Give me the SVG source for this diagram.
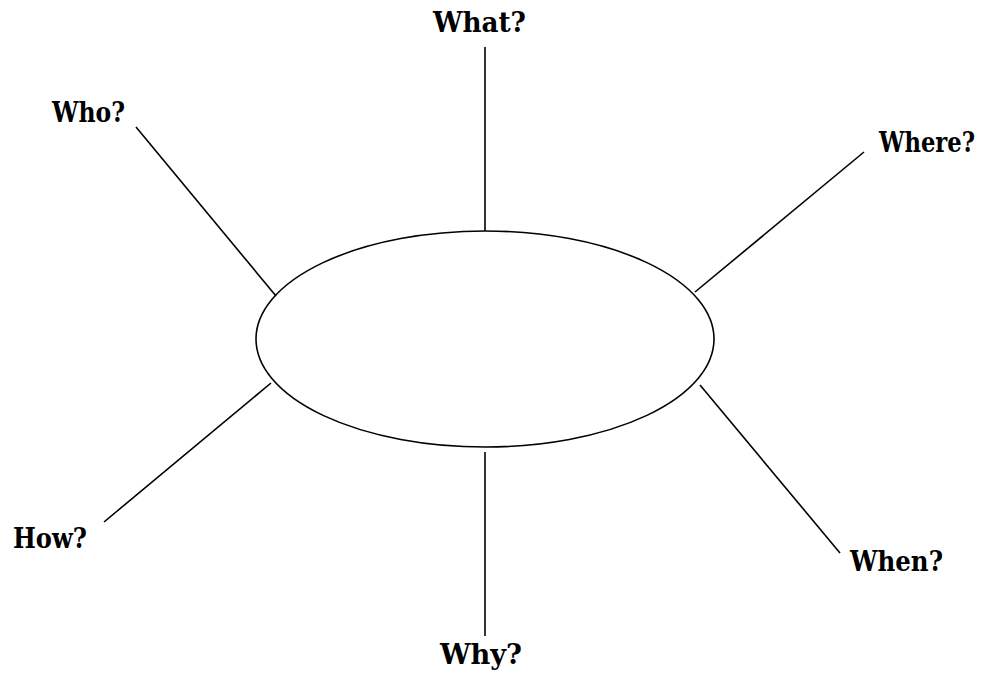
<svg xmlns="http://www.w3.org/2000/svg" width="987" height="673" viewBox="0 0 987 673">
<style>
.lbl{font-family:"DejaVu Serif","Liberation Serif",serif;font-weight:bold;font-size:27px;fill:#000}
.ln{stroke:#000;stroke-width:1.6;fill:none}
</style>
<rect width="987" height="673" fill="#fff"/>
<g id="center">
<ellipse cx="485" cy="339" rx="229" ry="108" fill="none" stroke="#000" stroke-width="1.6"/>
</g>
<g id="connectors">
<line class="ln" x1="485" y1="47" x2="485" y2="231"/>
<line class="ln" x1="136" y1="127" x2="276" y2="296"/>
<line class="ln" x1="864" y1="152" x2="695" y2="292"/>
<line class="ln" x1="271" y1="383" x2="104" y2="522"/>
<line class="ln" x1="700" y1="385" x2="840" y2="553"/>
<line class="ln" x1="485" y1="452" x2="485" y2="636"/>
</g>
<g id="what"><text class="lbl" x="433" y="32" textLength="93" lengthAdjust="spacingAndGlyphs">What?</text></g>
<g id="who"><text class="lbl" x="52" y="122" textLength="73" lengthAdjust="spacingAndGlyphs">Who?</text></g>
<g id="where"><text class="lbl" x="879" y="152" textLength="96" lengthAdjust="spacingAndGlyphs">Where?</text></g>
<g id="how"><text class="lbl" x="13" y="548" textLength="74" lengthAdjust="spacingAndGlyphs">How?</text></g>
<g id="when"><text class="lbl" x="850" y="571" textLength="93" lengthAdjust="spacingAndGlyphs">When?</text></g>
<g id="why"><text class="lbl" x="440" y="664" textLength="82" lengthAdjust="spacingAndGlyphs">Why?</text></g>
</svg>
